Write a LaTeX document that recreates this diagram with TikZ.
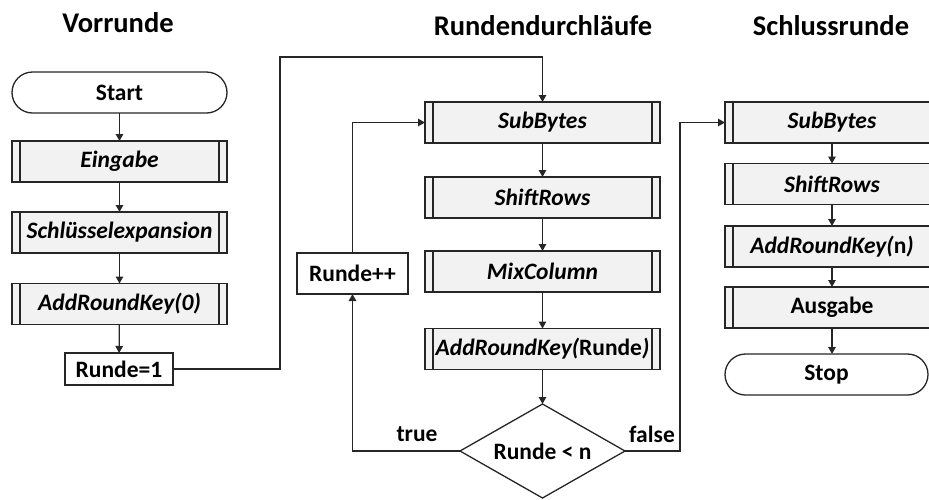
\documentclass[tikz,border=0pt]{standalone}
\usepackage{fontspec}
\setmainfont{Carlito}
\usetikzlibrary{shapes.geometric,arrows.meta}

\definecolor{boxgray}{HTML}{F2F2F2}
\definecolor{linegray}{HTML}{262626}

\tikzset{
  every node/.style={font=\bfseries\fontsize{23.5}{27}\selectfont, inner sep=0pt, outer sep=0pt},
  title/.style={font=\bfseries\fontsize{28.5}{32}\selectfont, anchor=base},
  conn/.style={draw=linegray, line width=1.3pt},
  arr/.style={conn, -{Triangle[length=7pt,width=7.5pt]}},
  proc/.style={draw=linegray, line width=1.3pt, fill=boxgray,
    minimum height=41pt, minimum width=#1,
    path picture={
      \draw[linegray, line width=1.3pt]
        ([xshift=8pt]path picture bounding box.south west) --
        ([xshift=8pt]path picture bounding box.north west);
      \draw[linegray, line width=1.3pt]
        ([xshift=-8pt]path picture bounding box.south east) --
        ([xshift=-8pt]path picture bounding box.north east);}},
  term/.style={draw=linegray, line width=1.3pt, fill=white,
    minimum height=41pt, minimum width=#1, rounded corners=20.5pt},
  stepbox/.style={draw=linegray, line width=1.3pt, fill=white,
    minimum height=#1},
  decision/.style={draw=linegray, line width=1.3pt, fill=white, diamond,
    aspect=1.75, minimum width=165pt, minimum height=94pt},
  lbl/.style={font=\bfseries\fontsize{23.5}{27}\selectfont}
}

\begin{document}
\begin{tikzpicture}[x=1pt, y=-1pt]
  \useasboundingbox (0,0) rectangle (929,499);

  % column headings
  \node[title] (tA) at (118,32) {Vorrunde};
  \node[title] (tB) at (543,35) {Rundendurchläufe};
  \node[title] (tC) at (831,35) {Schlussrunde};

  % initial round
  \node[term=215pt] (start) at (119.5,92.5) {Start};
  \node[proc=215pt] (ein) at (119.5,161.5) {\itshape Eingabe};
  \node[proc=215pt] (sx) at (119.5,232.5) {\itshape Schlüsselexpansion};
  \node[proc=215pt] (ark0) at (119.5,304) {\itshape AddRoundKey(0)};
  \node[stepbox=32pt, minimum width=108pt] (r1) at (119,369) {Runde=1};

  % main rounds
  \node[proc=235pt] (sb1) at (542.5,122.5) {\itshape SubBytes};
  \node[proc=235pt] (sr1) at (542.5,197.5) {\itshape ShiftRows};
  \node[proc=235pt] (mc) at (542.5,271.5) {\itshape MixColumn};
  \node[proc=235pt] (arkr) at (542.5,349) {{\itshape AddRoundKey(}Runde{\itshape )}};
  \node[decision] (dec) at (542.5,451) {Runde < n};
  \node[stepbox=41pt, minimum width=111pt] (inc) at (352.5,273.5) {Runde++};

  % final round
  \node[proc=214pt] (sb2) at (832,122.5) {\itshape SubBytes};
  \node[proc=214pt] (sr2) at (832,184) {\itshape ShiftRows};
  \node[proc=214pt] (ark2) at (832,246.5) {{\itshape AddRoundKey(}n{\itshape )}};
  \node[proc=214pt] (aus) at (832,307.5) {Ausgabe};
  \node[term=203pt] (stop) at (826.5,374.5) {Stop};

  % bend points
  \coordinate (c1) at (280,369);
  \coordinate (c2) at (280,57);
  \coordinate (c3) at (542.5,57);
  \coordinate (c4) at (352.5,451);
  \coordinate (c5) at (352.5,122.5);
  \coordinate (c6) at (680,451);
  \coordinate (c7) at (680,122.5);

  % connectors
  \draw[arr] (start) -- (ein);
  \draw[arr] (ein) -- (sx);
  \draw[arr] (sx) -- (ark0);
  \draw[arr] (ark0) -- (r1);
  \draw[arr] (r1.east) -- (c1) -- (c2) -- (c3) -- (sb1.north);

  \draw[arr] (sb1) -- (sr1);
  \draw[arr] (sr1) -- (mc);
  \draw[arr] (mc) -- (arkr);
  \draw[arr] (arkr) -- (dec.north);
  \draw[arr] (dec.west) -- (c4) -- (inc.south);
  \draw[arr] (inc.north) -- (c5) -- (sb1.west);
  \draw[arr] (dec.east) -- (c6) -- (c7) -- (sb2.west);

  \draw[arr] (sb2) -- (sr2);
  \draw[arr] (sr2) -- (ark2);
  \draw[arr] (ark2) -- (aus);
  \draw[arr] (aus.south) -- (aus.south |- stop.north);

  % branch labels
  \node[lbl] (lt) at (417,434) {true};
  \node[lbl] (lf) at (652,434) {false};
\end{tikzpicture}
\end{document}
